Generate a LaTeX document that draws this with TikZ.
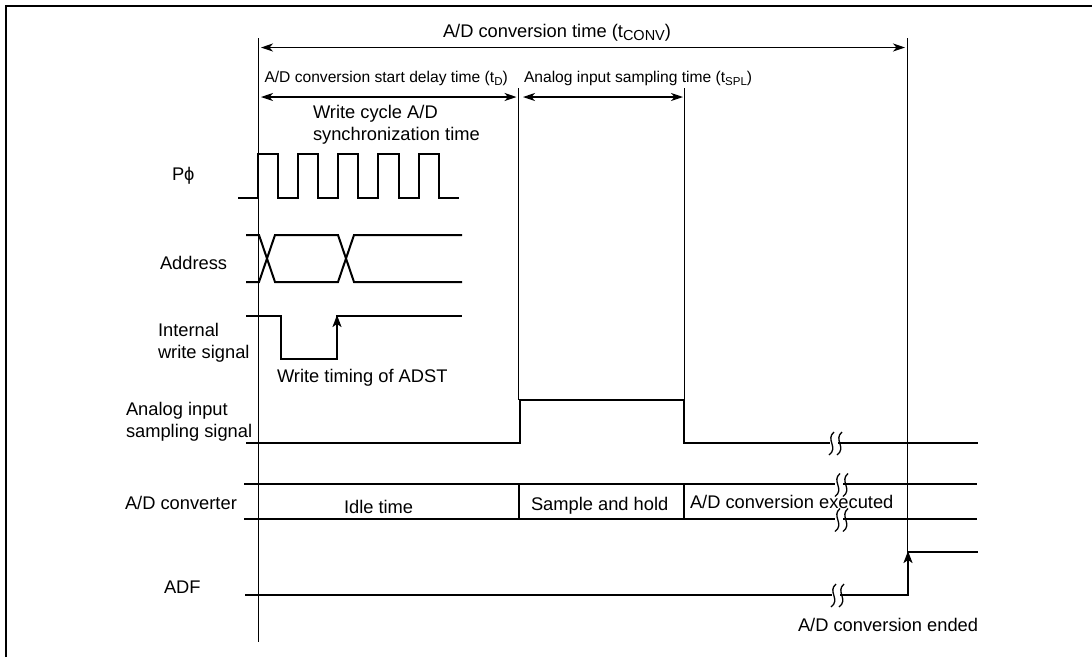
\documentclass[tikz,border=0pt]{standalone}
\usepackage{fontspec}
\setmainfont{Liberation Sans}
\usetikzlibrary{arrows.meta}
\newcommand{\subtxt}[2]{\raisebox{-3.5pt}{\fontsize{#1}{12}\selectfont #2}}
\tikzset{
    sig/.style={line width=2pt},
    guide/.style={line width=1.1pt},
    span/.style={line width=1.2pt, {Stealth[length=12pt,width=8pt,inset=3.5pt]}-{Stealth[length=12pt,width=8pt,inset=3.5pt]}},
    wavy/.style={line width=1.3pt},
    lbl/.style={anchor=base west, inner sep=0pt, outer sep=0pt, align=left, font=\fontsize{18.3}{21.7}\selectfont},
    lblsmall/.style={lbl, font=\fontsize{15.6}{18}\selectfont}
}
\begin{document}
\begin{tikzpicture}[x=1pt, y=-1pt]
    \useasboundingbox (0,0) rectangle (1092,657);
    \draw[line width=2pt] (6,657) -- (6,6) -- (1092,6);

    \draw[guide] (258.7,38) -- (258.7,642);
    \draw[guide] (907.5,38) -- (907.5,552);
    \draw[guide] (518.7,88) -- (518.7,400);
    \draw[guide] (684.7,88) -- (684.7,400);

    \draw[span] (261,47.5) -- (905,47.5);
    \draw[span] (261,97) -- (516.5,97);
    \draw[span] (523,97) -- (683,97);

    \node[lbl] (conv) at (443,37) {A/D conversion time (t\subtxt{14.5}{CONV})};
    \node[lblsmall] (delay) at (264.5,82) {A/D conversion start delay time (t\subtxt{11.5}{D})};
    \node[lblsmall] (spl) at (524,82) {Analog input sampling time (t\subtxt{11.5}{SPL})};
    \node[lbl] (sync) at (313,140) {Write cycle A/D\\synchronization time};

    \node[lbl] (clk) at (172,180) {Pϕ};
    \draw[sig] (238,198) -- (258,198) -- (258,154) -- (278,154) -- (278,198) -- (298,198) -- (298,154)
        -- (318,154) -- (318,198) -- (338,198) -- (338,154) -- (358,154) -- (358,198) -- (378,198)
        -- (378,154) -- (399,154) -- (399,198) -- (419,198) -- (419,154) -- (439,154) -- (439,198) -- (459,198);

    \node[lbl] (addr) at (160,269) {Address};
    \draw[sig] (246,235) -- (259,235) -- (275,282) -- (338,282) -- (354,235) -- (462,235);
    \draw[sig] (246,282) -- (259,282) -- (275,235) -- (338,235) -- (354,282) -- (462,282);

    \node[lbl] (wr) at (158,358) {Internal\\write signal};
    \draw[sig] (246,316) -- (281,316) -- (281,359) -- (337,359) -- (337,316) -- (462,316);
    \draw[sig, -{Stealth[length=12pt,width=9pt,inset=3pt]}] (337,335) -- (337,315);
    \node[lbl] (adst) at (277,382) {Write timing of ADST};

    \node[lbl] (smp) at (126,437) {Analog input\\sampling signal};
    \draw[sig] (246,443) -- (520,443) -- (520,400) -- (684,400) -- (684,443) -- (830,443);
    \draw[sig] (838,443) -- (978,443);

    \node[lbl] (adc) at (125,509) {A/D converter};
    \draw[sig] (244,484) -- (835,484);
    \draw[sig] (843,484) -- (977,484);
    \draw[sig] (244,519) -- (835,519);
    \draw[sig] (843,519) -- (977,519);
    \draw[sig] (519,484) -- (519,519);
    \draw[sig] (684,484) -- (684,519);
    \node[lbl] (idle) at (344,513) {Idle time};
    \node[lbl] (hold) at (531,510) {Sample and hold};
    \node[lbl] (exec) at (690,508) {A/D conversion executed};

    \node[lbl] (adf) at (164,593) {ADF};
    \draw[sig] (245,595) -- (832,595);
    \draw[sig] (840,595) -- (908,595) -- (908,552) -- (978,552);
    \draw[sig, -{Stealth[length=12pt,width=9pt,inset=3pt]}] (908,572) -- (908,551);
    \node[lbl] (ended) at (798,631) {A/D conversion ended};

    \foreach \bx/\by in {834/443.5, 840/485, 840/520, 836/595.5} {
        \draw[wavy] (\bx,\by-11.5) .. controls (\bx-9,\by-4) and (\bx+5,\by+4) .. (\bx-5,\by+11.5);
        \draw[wavy] (\bx+8,\by-11.5) .. controls (\bx-1,\by-4) and (\bx+13,\by+4) .. (\bx+3,\by+11.5);
    }
\end{tikzpicture}
\end{document}
